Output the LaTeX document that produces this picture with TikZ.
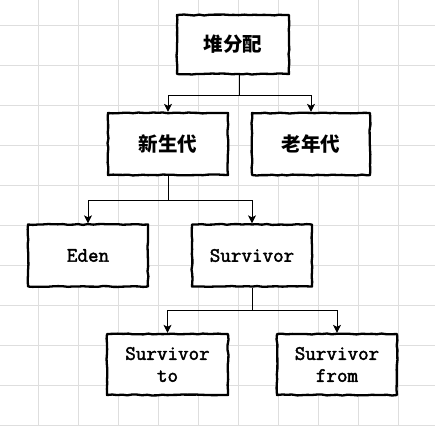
\documentclass[tikz,border=0pt]{standalone}
\usepackage{fontspec}
\newfontfamily\cjk{Noto Sans CJK SC}
\newfontfamily\monob[FakeBold=2.2]{Latin Modern Mono}
\usetikzlibrary{decorations.pathmorphing,arrows.meta}
\definecolor{gridc}{HTML}{DEDEDE}
\tikzset{
  sketch/.style={draw=black,line width=2.3pt,line join=round,
    decorate,decoration={random steps,segment length=5pt,amplitude=0.5pt}},
  boxA/.style={sketch,fill=white,inner sep=0pt,align=center},
  cn/.style={font=\cjk\bfseries\fontsize{19.5}{22}\selectfont},
  mono/.style={font=\monob\fontsize{20.5}{22}\selectfont},
  arr/.style={draw=black,line width=1pt,-{Stealth[length=8pt,width=8pt,inset=2pt]}},
}
\begin{document}
\begin{tikzpicture}[x=1pt,y=-1pt]
\useasboundingbox (0,0) rectangle (435,426);
\fill[white] (0,0) rectangle (435,426);
\foreach \gx in {38,78,...,430} \draw[gridc,line width=0.6pt] (\gx,0) -- (\gx,426);
\foreach \gy in {25,65,...,426} \draw[gridc,line width=0.6pt] (0,\gy) -- (435,\gy);

\node[boxA,cn,minimum width=112pt,minimum height=59pt] (heap) at (233,44.5) {堆分配};
\node[boxA,cn,minimum width=120pt,minimum height=62pt] (young) at (168,144) {新生代};
\node[boxA,cn,minimum width=118pt,minimum height=62pt] (old) at (311,144) {老年代};
\node[boxA,mono,minimum width=120pt,minimum height=62pt] (eden) at (88,255.5) {Eden};
\node[boxA,mono,minimum width=120pt,minimum height=62pt] (surv) at (252,255.5) {Survivor};
\node[boxA,mono,minimum width=121pt,minimum height=61pt] (sto) at (167.5,364.5) {Survivor\\to};
\node[boxA,mono,minimum width=120pt,minimum height=61pt] (sfrom) at (337,364.5) {Survivor\\from};

\coordinate (j1) at (239,95);
\coordinate (j2) at (168,200);
\coordinate (j3) at (252,310);

\draw[line width=1pt] (heap.south -| j1) -- (j1);
\draw[arr] (j1) -| (young.north);
\draw[arr] (j1) -| (old.north);
\draw[line width=1pt] (young.south -| j2) -- (j2);
\draw[arr] (j2) -| (eden.north);
\draw[arr] (j2) -| (surv.north);
\draw[line width=1pt] (surv.south -| j3) -- (j3);
\draw[arr] (j3) -| (sto.north);
\draw[arr] (j3) -| (sfrom.north);
\end{tikzpicture}
\end{document}
